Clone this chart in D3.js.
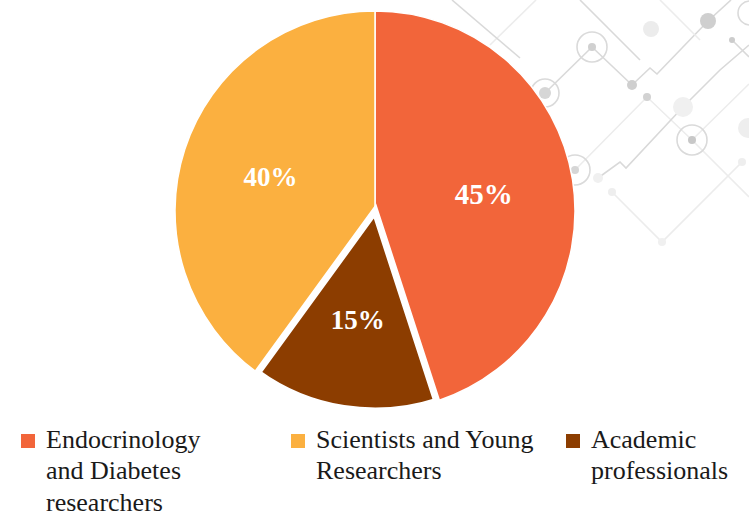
<!DOCTYPE html>
<html>
<head>
<meta charset="utf-8">
<script src="https://cdn.jsdelivr.net/npm/d3@7"></script>
<style>
  body { margin: 0; background: #fff; }
  svg { display: block; }
  text { font-family: "Liberation Serif", "DejaVu Serif", serif; }
</style>
</head>
<body>
<svg id="chart"></svg>
<script>
let categories = ["Endocrinology and Diabetes researchers", "Scientists and Young Researchers", "Academic professionals"]
let values = [45, 40, 15]
let legendLines = [
    ["Endocrinology", "and Diabetes", "researchers"],
    ["Scientists and Young", "Researchers"],
    ["Academic", "professionals"]
]

// slice order around the pie (clockwise from 12 o'clock)
let sliceOrder = [0, 2, 1]
let colors = ["#F2653A", "#FBB040", "#8C3D00"]

let width = 749
let height = 513
let cx = 375
let cy = 211
let radius = 200

let svg = d3.select("#chart")
    .attr("width", width)
    .attr("height", height)

// decorative circuit pattern in the top right corner
let deco = svg.append("g")
let decoLines = [
    [[545, 93], [592, 47], [632, 85], [650, 68], [657, 74], [708, 21], [731, 0]],
    [[490, 45], [536, 0]],
    [[452, 0], [520, 58]],
    [[575, 170], [647, 97], [692, 140], [749, 84]],
    [[598, 178], [620, 162], [626, 168], [683, 107], [720, 70], [749, 45]],
    [[612, 192], [662, 242], [742, 162]],
    [[580, 0], [640, 60]],
    [[692, 140], [749, 197]],
    [[732, 40], [749, 57]],
    [[660, 0], [700, 40]]
]
deco.selectAll("polyline")
    .data(decoLines)
    .enter()
    .append("polyline")
    .attr("points", (d) => d.map((p) => p.join(",")).join(" "))
    .attr("fill", "none")
    .attr("stroke", (d, i) => i % 2 === 0 ? "#d9d9d9" : "#ececec")
    .attr("stroke-width", 1.6)
let decoRings = [[592, 47, 15], [545, 93, 14], [692, 140, 15], [575, 170, 15], [750, 13, 12]]
deco.selectAll("circle.ring")
    .data(decoRings)
    .enter()
    .append("circle")
    .attr("class", "ring")
    .attr("cx", (d) => d[0])
    .attr("cy", (d) => d[1])
    .attr("r", (d) => d[2])
    .attr("fill", "none")
    .attr("stroke", "#dadada")
    .attr("stroke-width", 1.6)
let decoDots = [
    [592, 47, 4, "#d0d0d0"], [545, 93, 6, "#d6d6d6"], [692, 140, 4, "#c8c8c8"],
    [708, 21, 8, "#cfcfcf"], [651, 29, 8, "#ececec"], [632, 85, 5, "#cfcfcf"],
    [647, 97, 4, "#d2d2d2"], [683, 107, 10, "#f0f0f0"], [748, 128, 10, "#eeeeee"],
    [742, 162, 4, "#eeeeee"], [732, 40, 3, "#cccccc"], [598, 178, 5, "#f0f0f0"],
    [612, 192, 4, "#eeeeee"], [662, 242, 4, "#f0f0f0"], [575, 170, 4, "#d6d6d6"]
]
deco.selectAll("circle.dot")
    .data(decoDots)
    .enter()
    .append("circle")
    .attr("class", "dot")
    .attr("cx", (d) => d[0])
    .attr("cy", (d) => d[1])
    .attr("r", (d) => d[2])
    .attr("fill", (d) => d[3])

let pieData = sliceOrder.map((i) => ({ name: categories[i], value: values[i], index: i }))

let pie = d3.pie()
    .value((d) => d.value)
    .sort(null)

let arc = d3.arc()
    .innerRadius(0)
    .outerRadius(radius)

let labelArc = d3.arc()
    .innerRadius(0)
    .outerRadius(220)

let arcs = pie(pieData)
// smallest slice drawn last with a heavier white outline
arcs.sort((a, b) => b.value - a.value)

let pieGroup = svg.append("g")
    .attr("transform", "translate(" + cx + "," + cy + ")")

pieGroup.selectAll("path")
    .data(arcs)
    .enter()
    .append("path")
    .attr("d", arc)
    .attr("fill", (d) => colors[d.data.index])
    .attr("stroke", "#fff")
    .attr("stroke-width", (d) => d.data.value === d3.min(values) ? 7 : 1.5)
    .attr("stroke-linejoin", "miter")

pieGroup.selectAll("text")
    .data(arcs)
    .enter()
    .append("text")
    .attr("transform", (d) => {
        let c = labelArc.centroid(d)
        return "translate(" + c[0] + "," + c[1] + ")"
    })
    .attr("text-anchor", "middle")
    .attr("dominant-baseline", "central")
    .attr("fill", "#fff")
    .attr("font-weight", "bold")
    .attr("font-size", (d) => d.data.value === d3.max(values) ? 29 : 27)
    .text((d) => d.data.value + "%")

// legend
let legendX = [21, 291, 566]
let legend = svg.append("g")

let items = legend.selectAll("g")
    .data(legendLines)
    .enter()
    .append("g")
    .attr("transform", (d, i) => "translate(" + legendX[i] + ",434)")

items.append("rect")
    .attr("width", 14)
    .attr("height", 14)
    .attr("fill", (d, i) => colors[i])

items.each(function (lines) {
    let t = d3.select(this).append("text")
        .attr("font-size", 26)
        .attr("fill", "#1a1a1a")
    lines.forEach((line, j) => {
        t.append("tspan")
            .attr("x", 25)
            .attr("y", 13.5 + j * 31.5)
            .text(line)
    })
})
</script>
</body>
</html>
